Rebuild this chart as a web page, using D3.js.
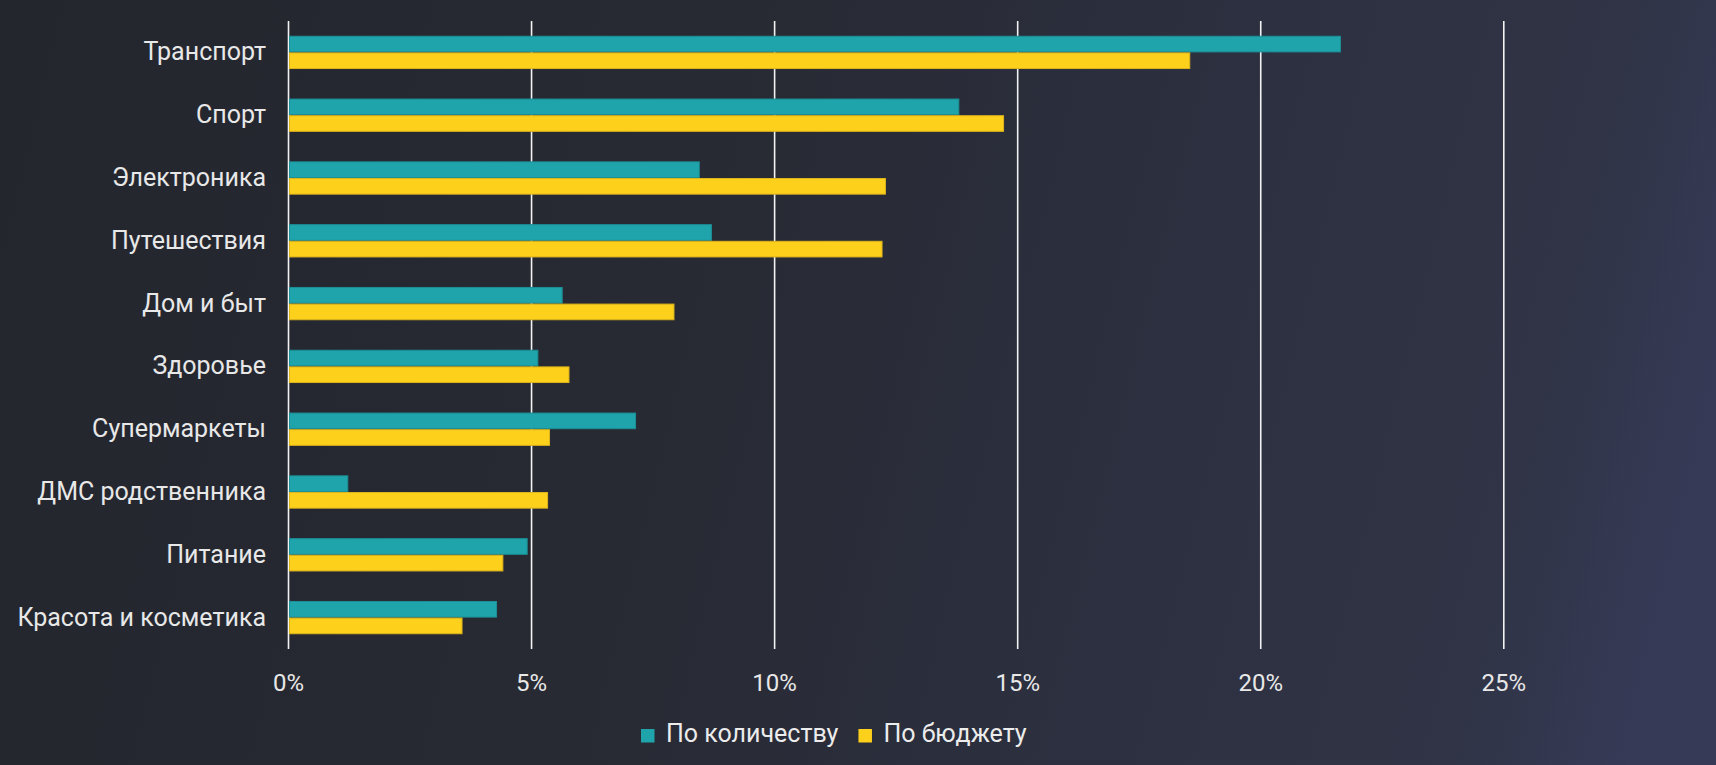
<!DOCTYPE html>
<html><head><meta charset="utf-8">
<script src="https://cdn.jsdelivr.net/npm/d3@7"></script>
<style>html,body{margin:0;padding:0;background:#25272f;overflow:hidden}svg{display:block}</style>
</head><body><svg id="c" width="1716" height="765"></svg>
<script>
const categories = ["Транспорт","Спорт","Электроника","Путешествия","Дом и быт","Здоровье","Супермаркеты","ДМС родственника","Питание","Красота и косметика"];
const byCount  = [21.65, 13.80, 8.46, 8.71, 5.64, 5.14, 7.15, 1.23, 4.92, 4.29];
const byBudget = [18.55, 14.72, 12.29, 12.22, 7.94, 5.78, 5.38, 5.34, 4.42, 3.58];
const tickValues = [0, 5, 10, 15, 20, 25];
const seriesNames = ["По количеству", "По бюджету"];
const seriesColors = ["#1fa4ab", "#fdd01c"];
const seriesStroke = ["#1d8f96", "#dcb41c"];

(function () {
const W = 1716, H = 765;
const svg = d3.select("#c");
const font = "Roboto, 'Noto Sans', sans-serif";

// background gradient
const defs = svg.append("defs");
const lg = defs.append("linearGradient").attr("id","bg")
  .attr("gradientUnits","userSpaceOnUse").attr("x1",0).attr("y1",0).attr("x2",W).attr("y2",420);
[[0,"#24262e"],[0.45,"#282a34"],[0.7,"#2c3040"],[0.9,"#303446"],[1,"#363a57"]]
  .forEach(([o,c]) => lg.append("stop").attr("offset",o).attr("stop-color",c));
svg.append("rect").attr("width",W).attr("height",H).attr("fill","url(#bg)");

const plotTop = 21, plotBottom = 649, plotLeft = 288;
const x = d3.scaleLinear().domain([0, 25]).range([plotLeft, 1503.3]);
const y = d3.scaleBand().domain(categories).range([plotTop, plotBottom]).paddingInner(0.47).paddingOuter(0.235);
const ys = d3.scaleBand().domain(seriesNames).range([0, y.bandwidth()]);

// grid / x axis
const xAxis = d3.axisBottom(x).tickValues(tickValues).tickFormat(d => d + "%")
  .tickSizeInner(-(plotBottom - plotTop)).tickSizeOuter(0).tickPadding(25);
const gx = svg.append("g").attr("transform", `translate(0,${plotBottom})`).call(xAxis);
gx.select(".domain").remove();
gx.selectAll(".tick line").attr("stroke", "#f2f2f2").attr("stroke-width", 1.6);
gx.selectAll(".tick text").attr("fill", "#e8e8e8").style("font-family", font).style("font-size", "24px");

// bars
const data = categories.map((c, i) => ({c, vals: [byCount[i], byBudget[i]]}));
const groups = svg.append("g").selectAll("g").data(data).join("g")
  .attr("transform", d => `translate(0,${y(d.c)})`);
groups.selectAll("rect").data(d => d.vals.map((v, j) => ({v, s: seriesNames[j], j})))
  .join("rect")
  .attr("x", x(0) + 1.5)
  .attr("y", d => ys(d.s) + 0.5)
  .attr("width", d => x(d.v) - x(0) - 1.5)
  .attr("height", ys.bandwidth() - 1)
  .attr("fill", d => seriesColors[d.j])
  .attr("stroke", d => seriesStroke[d.j])
  .attr("stroke-width", 1);

// y axis labels
const yAxis = d3.axisLeft(y).tickSize(0).tickPadding(22);
const gy = svg.append("g").attr("transform", `translate(${plotLeft},0)`).call(yAxis);
gy.select(".domain").remove();
gy.selectAll(".tick text").attr("fill", "#e8e8e8").style("font-family", font).style("font-size", "25px");

// legend
const leg = svg.append("g").attr("transform", "translate(641,0)");
let cx = 0;
seriesNames.forEach((n, i) => {
  leg.append("rect").attr("x", cx).attr("y", 729).attr("width", 13.5).attr("height", 13.5)
    .attr("fill", seriesColors[i]);
  const t = leg.append("text").attr("x", cx + 25).attr("y", 742.3).text(n)
    .attr("fill", "#ececec").style("font-family", font).style("font-size", "25px");
  cx += 25 + t.node().getComputedTextLength() + 20;
});
})();
</script></body></html>
